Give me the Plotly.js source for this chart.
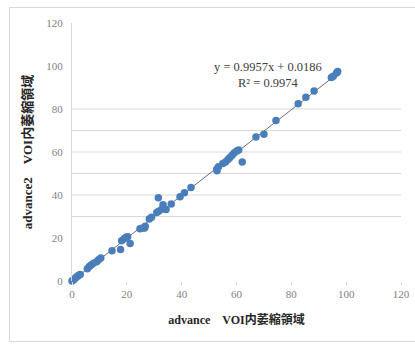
<!DOCTYPE html>
<html>
<head>
<meta charset="utf-8">
<script src="https://cdn.plot.ly/plotly-3.0.1.min.js"></script>
<style>
html,body{margin:0;padding:0;background:#fff;}
#frame{position:absolute;left:9px;top:7px;width:420px;height:335px;border:1px solid #d9d9d9;box-sizing:border-box;}
#chart{position:absolute;left:0;top:0;width:415px;height:345px;}
</style>
</head>
<body>
<div id="frame"></div>
<div id="chart"></div>
<script>
// Measured values (advance vs advance2, atrophy region inside VOI)
const xValues = [0, 0.5, 1, 1.5, 2, 2.5, 3,
  5.6, 6.3, 7, 7.8, 9, 9.7, 10.5,
  14.6, 17.7, 18.1, 19, 19.7, 20.3, 21.2,
  24.8, 25.8, 26.5, 26.7, 28.2, 29,
  30.9, 31.6, 32.8, 31.5, 33.2, 34.3, 36.2,
  39.4, 41, 43.4,
  52.8, 53.4, 52.9,
  55, 56, 56.9, 57.6, 58.4, 59.2, 60.1, 60.8, 62.1,
  67.1, 70, 74.4, 82.5, 85.3, 88.3,
  94.6, 95.3, 96.5, 96.9];
const yValues = [0, 0.5, 1, 1.8, 2.2, 2.7, 3,
  5.7, 6.7, 7.4, 8.2, 9, 9.9, 10.7,
  14.1, 14.7, 18.7, 19.7, 20.3, 20.6, 17.5,
  24.3, 24.6, 24.6, 25.5, 28.8, 29.6,
  31.9, 32.4, 33.4, 38.7, 35.5, 33.3, 35.8,
  39.2, 41, 43.5,
  52, 53.1, 51.3,
  54.7, 55.4, 56.5, 57.4, 58.5, 59.6, 60.5, 60.9, 55.3,
  67, 68.3, 74.6, 82.4, 85.5, 88.4,
  94.6, 95.2, 96.8, 97.4];
const slope = 0.9957;
const intercept = 0.0186;
const rSquared = 0.9974;
const trendX = [0, 97];
const gridValues = [30, 40, 50, 60, 70, 80];
const tickValues = [0, 20, 40, 60, 80, 100, 120];
const xTitle = "advance\u3000VOI内萎縮領域";
const yTitle = "advance2\u3000VOI内萎縮領域";

const serif = "'Liberation Serif', 'Noto Sans CJK JP', serif";

const traces = [
  {
    x: trendX,
    y: trendX.map(v => slope * v + intercept),
    mode: 'lines',
    line: {color: '#6b6b6b', width: 1},
    hoverinfo: 'skip',
    showlegend: false
  },
  {
    x: xValues,
    y: yValues,
    mode: 'markers',
    type: 'scatter',
    marker: {color: '#4A7EBB', size: 7.5},
    cliponaxis: false,
    showlegend: false
  }
];

const layout = {
  width: 415,
  height: 345,
  margin: {l: 72, r: 14, t: 23, b: 64},
  paper_bgcolor: 'rgba(0,0,0,0)',
  plot_bgcolor: 'rgba(0,0,0,0)',
  showlegend: false,
  xaxis: {
    range: [0, 120],
    tickvals: tickValues,
    showgrid: false,
    zeroline: false,
    showline: false,
    ticks: 'outside',
    ticklen: 3,
    tickcolor: '#d9d9d9',
    tickfont: {family: serif, size: 11, color: '#7f7f7f'},
    title: {text: xTitle, font: {family: serif, size: 12, color: '#262626', weight: 'bold'}, standoff: 16}
  },
  yaxis: {
    range: [0, 120],
    tickvals: tickValues,
    showgrid: false,
    zeroline: false,
    showline: true,
    linecolor: '#d9d9d9',
    linewidth: 1,
    ticks: '',
    ticklabelstandoff: 6,
    tickfont: {family: serif, size: 11, color: '#7f7f7f'},
    title: {text: yTitle, font: {family: serif, size: 13, color: '#262626', weight: 'bold'}, standoff: 10}
  },
  shapes: gridValues.map(v => ({
    type: 'line', xref: 'paper', yref: 'y', x0: 0, x1: 1, y0: v, y1: v,
    line: {color: '#d9d9d9', width: 1}, layer: 'below'
  })),
  annotations: [
    {x: 71.5, y: 99.5, xref: 'x', yref: 'y', text: 'y = ' + slope + 'x + ' + intercept,
     showarrow: false, font: {family: serif, size: 12.5, color: '#404040'}},
    {x: 71.5, y: 92, xref: 'x', yref: 'y', text: 'R² = ' + rSquared,
     showarrow: false, font: {family: serif, size: 12.5, color: '#404040'}}
  ]
};

Plotly.newPlot('chart', traces, layout, {displayModeBar: false, staticPlot: true});
</script>
</body>
</html>
